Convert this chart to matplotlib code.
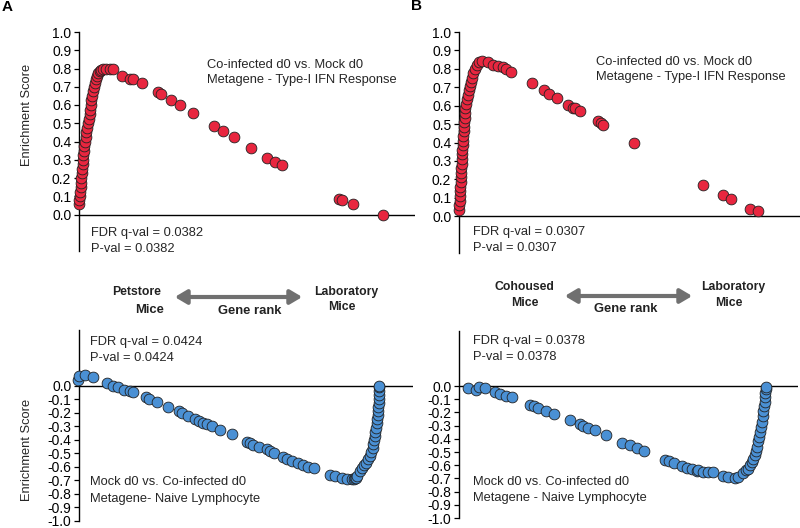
import matplotlib
matplotlib.use("Agg")
import matplotlib.pyplot as plt
from matplotlib.patches import FancyArrowPatch

plt.rcParams['font.family'] = ['Liberation Sans', 'DejaVu Sans']

W, H = 800, 528

# ---- data (gene rank position, enrichment score) ----
# A, top: Co-infected d0 vs. Mock d0, Type-I IFN response
a_top_rank = [0.0, 0.3, 0.7, 1.2, 1.7, 2.0, 2.4, 2.8, 3.2, 3.6, 4.0, 4.4, 4.9, 5.3, 5.8,
              6.5, 7.2, 8.0, 9.0, 9.8, 10.5, 11.2, 11.8, 12.4, 13.0, 13.8, 14.6, 15.5,
              16.5, 17.5, 19.0, 20.5, 22.0, 24.0, 27.0, 30.5, 34.0,
              43, 51, 54, 63, 79, 82, 92, 101, 114, 135, 144, 155, 172, 188, 196, 203,
              260, 263, 274, 304]
a_top_es = [0.055, 0.08, 0.10, 0.125, 0.15, 0.175, 0.20, 0.225, 0.25, 0.275, 0.30, 0.325,
            0.35, 0.375, 0.40, 0.425, 0.45, 0.475, 0.50, 0.525, 0.55, 0.575, 0.60, 0.625,
            0.65, 0.675, 0.70, 0.72, 0.74, 0.76, 0.775, 0.785, 0.79, 0.795, 0.80, 0.80, 0.795,
            0.76, 0.745, 0.74, 0.72, 0.67, 0.66, 0.625, 0.60, 0.555, 0.485, 0.46, 0.425,
            0.365, 0.31, 0.29, 0.27, 0.083, 0.08, 0.06, 0.0]

# B, top: Co-infected d0 vs. Mock d0, Type-I IFN response (cohoused)
b_top_rank = [0.3, 0.4, 0.6, 0.8, 1.0, 1.2, 1.5, 1.8, 2.0, 2.2, 2.5, 2.8, 3.1, 3.4, 3.7,
              4.0, 4.3, 4.6, 5.0, 5.3, 5.6, 6.0, 6.4, 6.9, 7.6, 8.5, 9.5, 10.5, 11.5, 12.7,
              14.0, 15.5, 17.5, 20.0, 23.3,
              28.7, 34.3, 39.3, 43.7, 47, 51.7, 72.7, 85.3, 90, 98.3, 109.3, 113.7, 116,
              121, 138.7, 141.7, 143.7, 175.3, 244.3, 263.7, 271.7, 291, 298.7]
b_top_es = [0.036, 0.06, 0.085, 0.11, 0.135, 0.16, 0.185, 0.21, 0.235, 0.26, 0.285, 0.31,
            0.335, 0.36, 0.385, 0.41, 0.435, 0.46, 0.485, 0.51, 0.535, 0.56, 0.585, 0.61,
            0.635, 0.66, 0.685, 0.705, 0.73, 0.75, 0.775, 0.80, 0.82, 0.835, 0.845,
            0.835, 0.82, 0.815, 0.81, 0.80, 0.785, 0.725, 0.685, 0.665, 0.64, 0.605, 0.59,
            0.585, 0.57, 0.515, 0.505, 0.495, 0.395, 0.17, 0.115, 0.095, 0.04, 0.03]

# A, bottom: Mock d0 vs. Co-infected d0, Naive lymphocyte
a_bot_rank = [-1.3, 0, 6, 13.7, 27.7, 33.7, 39.3, 45, 51, 54.3, 67, 70.3, 77.7, 89.3, 100,
              102.7, 108.7, 116, 120.3, 124.3, 127.7, 132.7, 141, 153.3, 167.7, 171, 174.3,
              180, 187.7, 191, 195, 204.3, 208.3, 212.7, 219.3, 224.3, 229.3, 235, 251, 256,
              262.7, 267.7, 272.7, 275, 276, 277, 278, 281, 283, 285, 287, 289, 291, 292.3,
              293.5, 294.3, 295, 295.7, 296.3, 297, 297.7, 298.2, 298.7, 299, 299.3, 299.7,
              300, 300.2, 300.3, 300.3, 300.3]
a_bot_es = [0.044, 0.07, 0.076, 0.061, 0.02, 0.0, -0.012, -0.03, -0.04, -0.05, -0.085,
            -0.10, -0.12, -0.155, -0.19, -0.20, -0.225, -0.245, -0.26, -0.275, -0.285,
            -0.30, -0.325, -0.36, -0.415, -0.425, -0.44, -0.455, -0.47, -0.485, -0.495,
            -0.525, -0.545, -0.555, -0.575, -0.59, -0.60, -0.61, -0.66, -0.665, -0.685,
            -0.69, -0.69, -0.69, -0.68, -0.685, -0.665, -0.63, -0.61, -0.59, -0.57, -0.545,
            -0.52, -0.49, -0.46, -0.43, -0.40, -0.37, -0.34, -0.31, -0.28, -0.25, -0.22,
            -0.19, -0.16, -0.13, -0.10, -0.07, -0.04, -0.01, 0.0]

# B, bottom: Mock d0 vs. Co-infected d0, Naive lymphocyte (cohoused)
b_bot_rank = [8.7, 17, 20, 26, 36, 41, 47, 52.7, 71, 75.3, 79.3, 86.7, 95.3, 111, 121, 124.3,
              129.3, 136, 147, 163.3, 171, 177.7, 185, 206, 210.3, 215, 222.7, 227.7, 232.7,
              237.7, 239.3, 244.3, 249.3, 254.3, 264.3, 269.3, 276, 279.3, 284.3, 287, 289.3,
              291, 292.7, 294.3, 296, 297.2, 298.3, 299.3, 300.3, 301.2, 302, 302.8, 303.7,
              304.3, 305, 305.5, 306, 306.4, 306.7, 306.7]
b_bot_es = [-0.018, -0.03, -0.005, -0.018, -0.048, -0.06, -0.073, -0.08, -0.14, -0.15,
            -0.165, -0.19, -0.215, -0.26, -0.29, -0.30, -0.315, -0.335, -0.37, -0.43, -0.45,
            -0.47, -0.49, -0.56, -0.57, -0.585, -0.605, -0.62, -0.63, -0.645, -0.635, -0.65,
            -0.655, -0.655, -0.68, -0.69, -0.70, -0.69, -0.66, -0.64, -0.625, -0.60, -0.575,
            -0.55, -0.525, -0.49, -0.46, -0.42, -0.385, -0.35, -0.31, -0.27, -0.23, -0.19,
            -0.155, -0.12, -0.08, -0.05, -0.02, -0.005]

top_ticks = [0.0, 0.1, 0.2, 0.3, 0.4, 0.5, 0.6, 0.7, 0.8, 0.9, 1.0]
bot_ticks = [-1.0, -0.9, -0.8, -0.7, -0.6, -0.5, -0.4, -0.3, -0.2, -0.1, 0.0]

RED = '#e8263f'
BLUE = '#4a90d4'
TXT = '#262626'
FS = 9.3


def px_axes(left, right, top, bottom):
    return fig.add_axes([left / W, 1 - bottom / H, (right - left) / W, (bottom - top) / H])


def ftext(x, y, s, **kw):
    kw.setdefault('color', TXT)
    kw.setdefault('fontsize', FS)
    fig.text(x / W, 1 - y / H, s, **kw)


def draw_panel(ax, rank, es, color, ylim, ticks):
    ax.set_ylim(*ylim)
    for side in ('top', 'right', 'bottom'):
        ax.spines[side].set_visible(False)
    ax.spines['left'].set_linewidth(1.0)
    ax.axhline(0, color='black', lw=1.0, zorder=1)
    ax.set_xticks([])
    ax.set_yticks(ticks)
    ax.set_yticklabels([f'{t:.1f}' for t in ticks])
    ax.tick_params(axis='y', direction='out', length=3.5, width=0.9, labelsize=10,
                   pad=2, colors='black')
    ax.scatter(rank, es, s=60, c=color, edgecolors='#222222', linewidths=0.6,
               zorder=3, clip_on=False)


fig = plt.figure(figsize=(W / 100, H / 100), dpi=100)

ax1 = px_axes(79, 415, 32, 251)
ax1.set_xlim(0, 336)
draw_panel(ax1, a_top_rank, a_top_es, RED, (-0.2, 1.0), top_ticks)

ax2 = px_axes(459, 800, 32, 253)
ax2.set_xlim(0, 341)
draw_panel(ax2, b_top_rank, b_top_es, RED, (-0.2, 1.0), top_ticks)

ax3 = px_axes(79, 413, 330, 521)
ax3.set_xlim(0, 334)
draw_panel(ax3, a_bot_rank, a_bot_es, BLUE, (-1.0, 0.41), bot_ticks)

ax4 = px_axes(459, 798, 331, 518)
ax4.set_xlim(0, 339)
draw_panel(ax4, b_bot_rank, b_bot_es, BLUE, (-1.0, 0.417), bot_ticks)

# panel letters
ftext(7, 7, 'A', fontsize=11, fontweight='bold', color='black', va='center', ha='center')
ftext(417, 6, 'B', fontsize=11, fontweight='bold', color='black', va='center', ha='center')

# y labels
ftext(27, 115, 'Enrichment Score', rotation=90, va='center', ha='center')
ftext(27, 450, 'Enrichment Score', rotation=90, va='center', ha='center')

# annotations
ftext(207, 65, 'Co-infected d0 vs. Mock d0', va='center')
ftext(207, 80, 'Metagene - Type-I IFN Response', va='center')
ftext(91, 233, 'FDR q-val = 0.0382', va='center')
ftext(91, 249, 'P-val = 0.0382', va='center')

ftext(596, 62, 'Co-infected d0 vs. Mock d0', va='center')
ftext(596, 77, 'Metagene - Type-I IFN Response', va='center')
ftext(473, 232, 'FDR q-val = 0.0307', va='center')
ftext(473, 248, 'P-val = 0.0307', va='center')

ftext(90, 342, 'FDR q-val = 0.0424', va='center')
ftext(90, 358, 'P-val = 0.0424', va='center')
ftext(90, 482, 'Mock d0 vs. Co-infected d0', va='center')
ftext(90, 499, 'Metagene- Naive Lymphocyte', va='center')

ftext(473, 341, 'FDR q-val = 0.0378', va='center')
ftext(473, 357, 'P-val = 0.0378', va='center')
ftext(473, 482, 'Mock d0 vs. Co-infected d0', va='center')
ftext(473, 498, 'Metagene - Naive Lymphocyte', va='center')

# gene rank arrows and side labels
BOLD = dict(fontweight='bold', color='#222222', ha='center', va='center', fontsize=8.8)
ftext(137, 292, 'Petstore', **BOLD)
ftext(150, 310, 'Mice', **dict(BOLD, fontsize=9.4))
ftext(250, 311, 'Gene rank', **dict(BOLD, fontsize=9.4))
ftext(346, 292, 'Laboratory', **BOLD)
ftext(342, 307, 'Mice', **BOLD)

ftext(524, 287, 'Cohoused', **BOLD)
ftext(525, 303, 'Mice', **BOLD)
ftext(626, 309, 'Gene rank', **dict(BOLD, fontsize=9.4))
ftext(733, 287, 'Laboratory', **BOLD)
ftext(729, 303, 'Mice', **BOLD)

for x0, x1, y in [(172, 305, 297), (562, 695, 296)]:
    arr = FancyArrowPatch((x0 / W, 1 - y / H), (x1 / W, 1 - y / H),
                          transform=fig.transFigure,
                          arrowstyle='<|-|>,head_length=3.2,head_width=1.9',
                          color='#707070', lw=3.0, mutation_scale=2.2)
    fig.patches.append(arr)

fig.savefig('out.png', dpi=100)
